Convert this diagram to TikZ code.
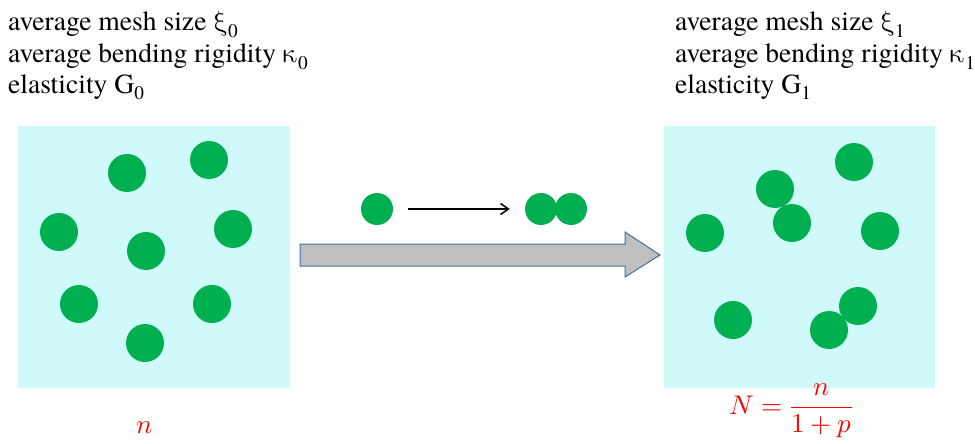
\documentclass[tikz,border=0pt]{standalone}
\usepackage{amsmath}
\usepackage{fontspec}
\usepackage{unicode-math}
\setmathfont{Latin Modern Math}
\IfFontExistsTF{texgyretermes-regular.otf}
  {\newfontfamily\tnr{texgyretermes-regular.otf}}
  {\newfontfamily\tnr{Latin Modern Roman}}
\usetikzlibrary{arrows.meta}
\definecolor{boxcyan}{RGB}{208,250,250}
\definecolor{dotgreen}{RGB}{0,176,80}
\definecolor{arrowgray}{RGB}{191,191,191}
\definecolor{arrowedge}{RGB}{65,113,156}
\newcommand{\gxi}{$\upxi$}
\newcommand{\gkappa}{$\upkappa$}
\begin{document}
\begin{tikzpicture}[x=1pt,y=-1pt,
  panel/.style={fill=boxcyan,draw=none},
  dot/.style={circle,fill=dotgreen,draw=none,minimum size=38pt,inner sep=0pt},
  smalldot/.style={circle,fill=dotgreen,draw=none,minimum size=32pt,inner sep=0pt},
  label/.style={anchor=base west,inner sep=0pt,font=\tnr\fontsize{27.6}{30}\selectfont},
  redmath/.style={text=red,inner sep=0pt,font=\fontsize{27}{32}\selectfont}]
\useasboundingbox (0,0) rectangle (975,444);
% panels
\fill[panel] (18,126) rectangle (290,388);
\fill[panel] (664,126) rectangle (935,388);
% left dots
\node[dot] (l1) at (127,173) {};
\node[dot] (l2) at (209,160) {};
\node[dot] (l3) at (59,232) {};
\node[dot] (l4) at (233,229) {};
\node[dot] (l5) at (146,251) {};
\node[dot] (l6) at (79,304) {};
\node[dot] (l7) at (212,304) {};
\node[dot] (l8) at (145,343) {};
% right dots
\node[dot] (r1) at (854,162) {};
\node[dot] (r2) at (775,189) {};
\node[dot] (r3) at (792,223) {};
\node[dot] (r4) at (705,233) {};
\node[dot] (r5) at (880,231) {};
\node[dot] (r6) at (858,306) {};
\node[dot] (r7) at (733,320) {};
\node[dot] (r8) at (829,330) {};
% reaction
\node[smalldot] (s0) at (377,209) {};
\node[smalldot] (s1) at (541,209) {};
\node[smalldot] (s2) at (571,209) {};
\draw[line width=1.5pt,-{Straight Barb[length=8pt,width=11pt]}] ([xshift=15pt]s0.east) -- ([xshift=-15pt]s1.west);
% big block arrow
\draw[fill=arrowgray,draw=arrowedge,line width=1pt]
  (300,244) -- (625,244) -- (625,232) -- (660,255) -- (625,277) -- (625,266) -- (300,266) -- cycle;
% texts
\node[label] (t1) at (8,31) {average mesh size \gxi\textsubscript{0}};
\node[label] (t2) at (8,63) {average bending rigidity \gkappa\textsubscript{0}};
\node[label] (t3) at (8,93) {elasticity G\textsubscript{0}};
\node[label] (u1) at (675,31) {average mesh size \gxi\textsubscript{1}};
\node[label] (u2) at (675,63) {average bending rigidity \gkappa\textsubscript{1}};
\node[label] (u3) at (675,93) {elasticity G\textsubscript{1}};
\node[redmath] (nl) at (145,428) {$n$};
\node[redmath] (nr) at (791,411) {$N=\dfrac{n}{1+p}$};
\end{tikzpicture}
\end{document}
